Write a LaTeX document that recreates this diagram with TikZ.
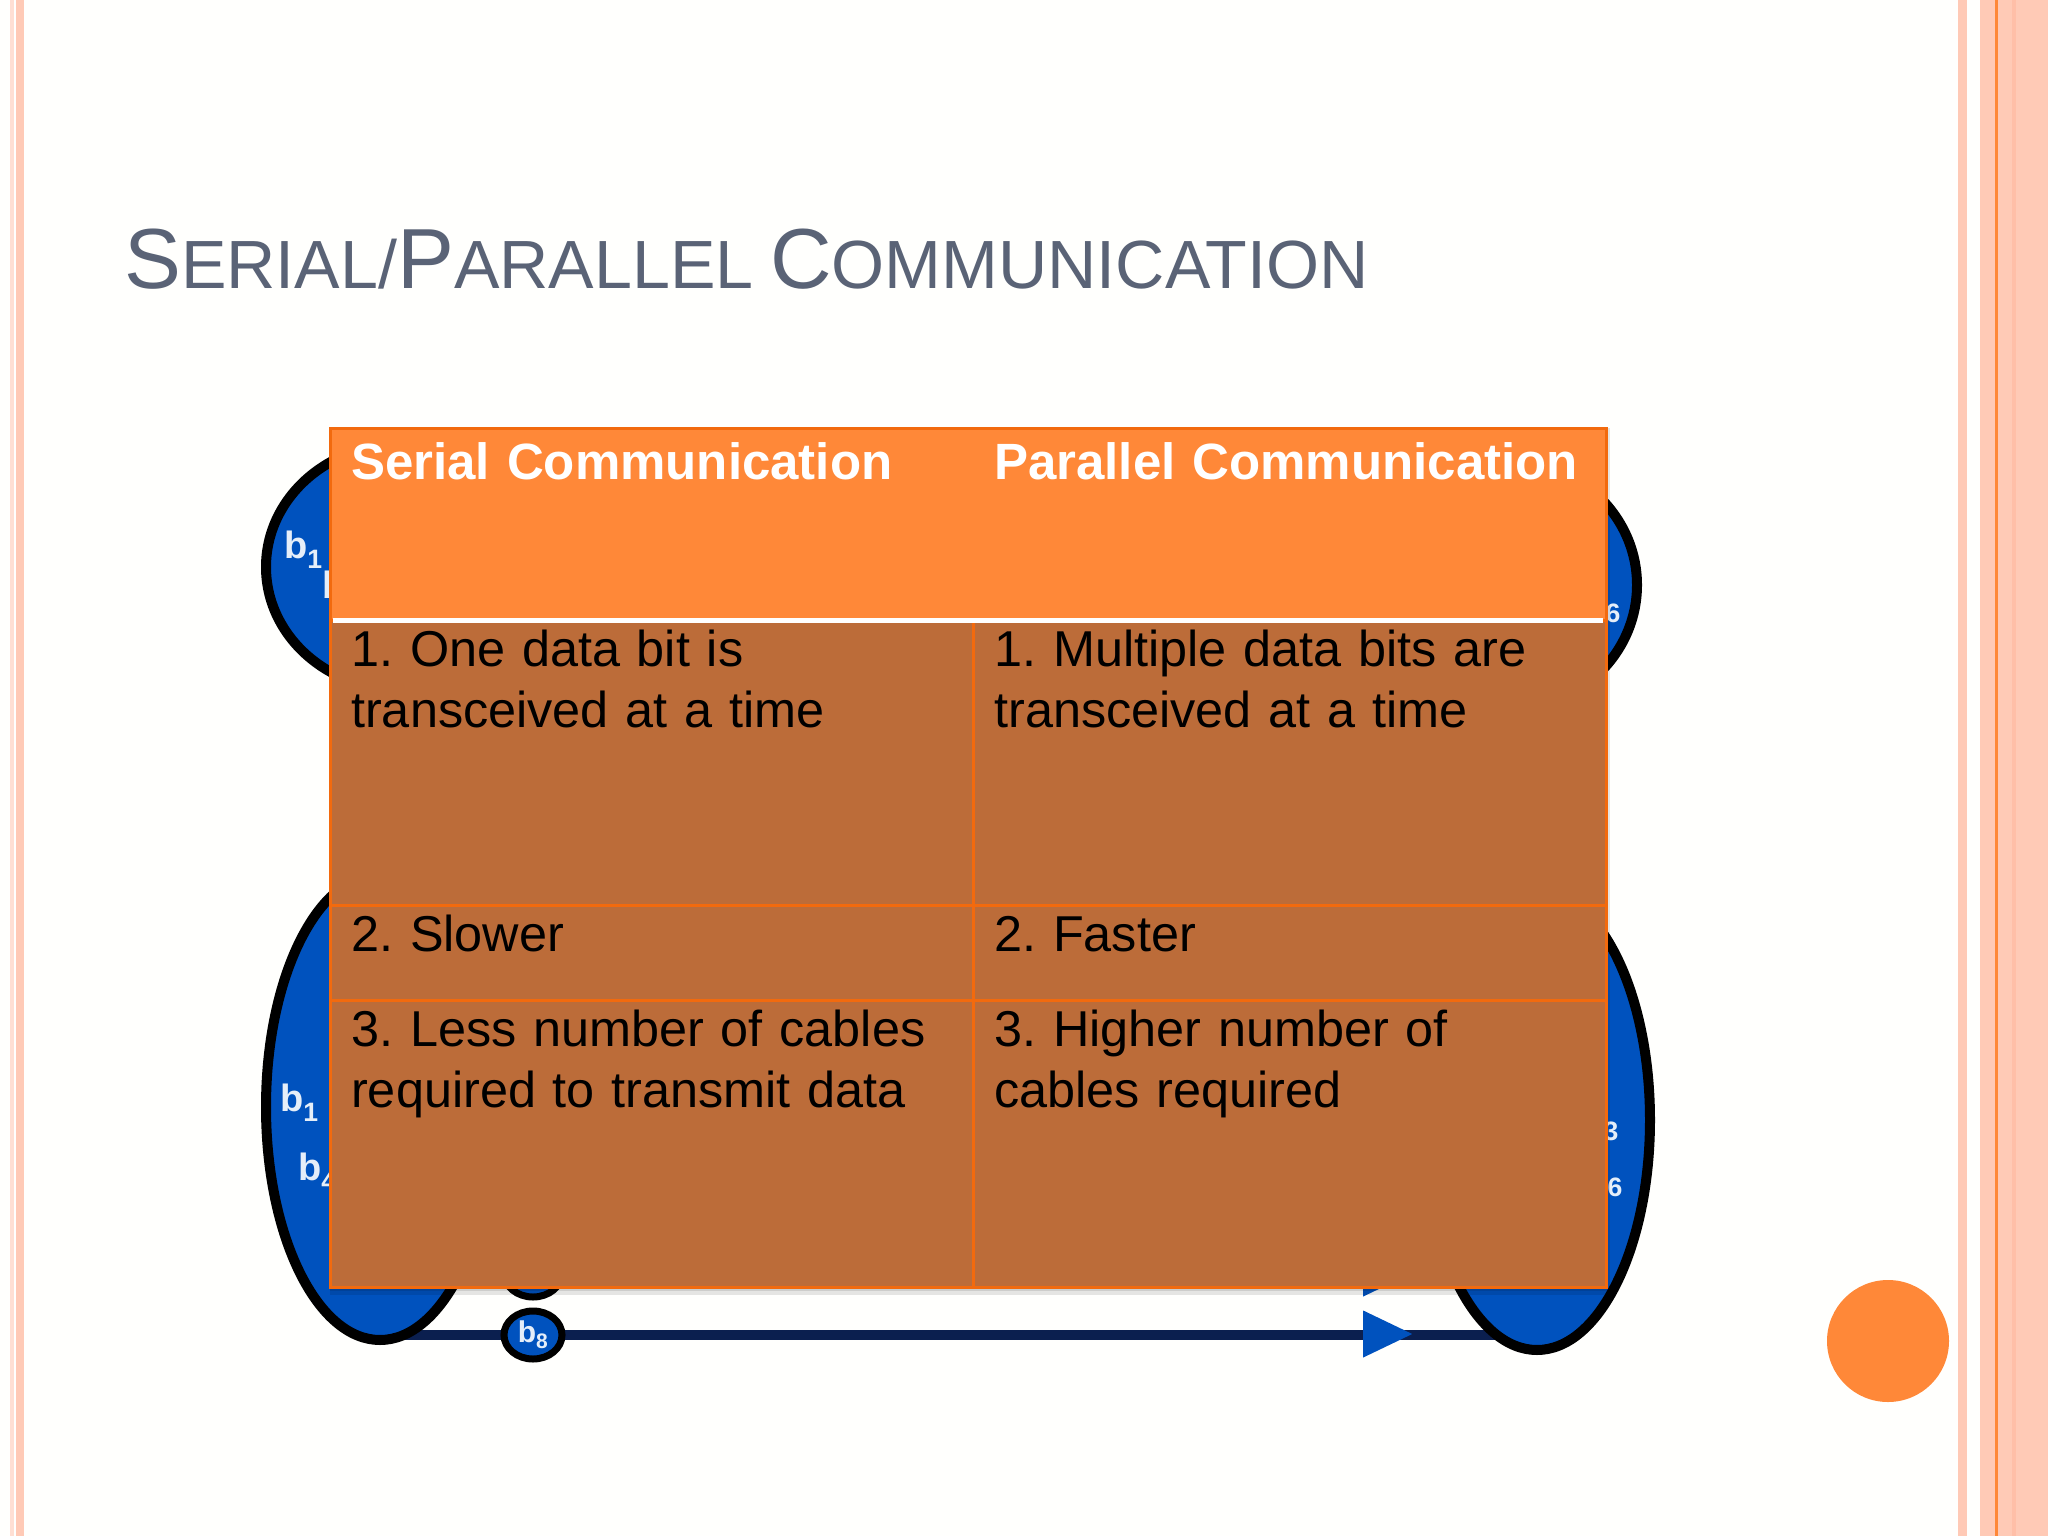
\documentclass[tikz,border=0pt]{standalone}
\usepackage{fontspec}
\setmainfont[WordSpace=0.88]{Liberation Sans}
\usetikzlibrary{positioning,shapes.geometric,backgrounds}

\definecolor{slidebg}{HTML}{FFFFFD}
\definecolor{stripe}{HTML}{FFCAB6}
\definecolor{stripedark}{HTML}{FFBFA8}
\definecolor{accent}{HTML}{FF8838}
\definecolor{bodyfill}{HTML}{BC6C39}
\definecolor{gridorange}{HTML}{F26A0E}
\definecolor{titlegrey}{HTML}{5A6376}
\definecolor{blobblue}{HTML}{0052BE}
\definecolor{busnavy}{HTML}{0B1F4F}

\newcommand{\titlecap}[2]{{\fontsize{85.3}{90}\selectfont #1}{\fontsize{68.2}{72}\selectfont #2}}

\tikzset{
  blob/.style={ellipse, draw=black, line width=10pt, fill=blobblue, inner sep=0pt},
  tap/.style={blob, line width=7pt, minimum width=58pt, minimum height=48pt},
  bitlabel/.style={text=white!90!blobblue, inner sep=0pt, font=\fontsize{38}{38}\selectfont\bfseries},
  arrowhead/.style={isosceles triangle, isosceles triangle stretches, shape border rotate=0,
    fill=blobblue, inner sep=0pt, minimum height=49pt, minimum width=47pt, anchor=west},
  cellbox/.style={rectangle, draw=gridorange, line width=3pt, fill=bodyfill, inner sep=0pt, outer sep=0pt},
  headbox/.style={cellbox, draw=none, fill=accent, minimum height=192pt},
  celltext/.style={anchor=north west, inner xsep=21pt, inner ysep=4pt, align=left,
    text width=600pt, font=\fontsize{50.4}{61}\selectfont\frenchspacing, execute at begin node=\strut},
  headtext/.style={celltext, inner ysep=9pt, text=white, font=\fontsize{51}{61}\selectfont\bfseries}
}

\begin{document}
\begin{tikzpicture}[x=1pt, y=-1pt]
  \useasboundingbox (0,0) rectangle (2048,1536);

  % slide background
  \begin{scope}[on background layer]
    \fill[slidebg] (0,0) rectangle (2048,1536);
    \fill[stripe!60] (10,0) rectangle (14,1536);
    \fill[stripe] (16,0) rectangle (24,1536);
    \fill[stripe] (1958,0) rectangle (1967,1536);
    \fill[stripe] (1980,0) rectangle (2048,1536);
    \fill[stripedark] (2012,0) rectangle (2016,1536);
    \fill[accent] (1995,0) rectangle (1998,1536);
  \end{scope}

  \node[anchor=base west, inner sep=0pt, text=titlegrey] (title) at (124,288)
    {\titlecap{S}{ERIAL/}\titlecap{P}{ARALLEL }\titlecap{C}{OMMUNICATION}};

  \node[circle, fill=accent, minimum size=122pt, inner sep=0pt] (dot) at (1888,1341) {};

  % blobs behind the table
  \node[blob, minimum width=270pt, minimum height=246pt] (srctop) at (401,567) {};
  \node[blob, minimum width=270pt, minimum height=254pt] (dsttop) at (1502,585) {};
  \node[blob, minimum width=228pt, minimum height=466pt] (srcbot) at (380,1107) {};
  \node[blob, minimum width=226pt, minimum height=460pt] (dstbot) at (1537,1120) {};

  \node[bitlabel, anchor=west] (topb1) at (284,550) {b\textsubscript{1}};
  \node[bitlabel, anchor=west] (topb4) at (322,590) {b\textsubscript{4}};
  \node[bitlabel, anchor=east] (topb6) at (1621,604) {b\textsubscript{6}};
  \node[bitlabel, anchor=west] (botb1) at (280,1103) {b\textsubscript{1}};
  \node[bitlabel, anchor=west] (botb4) at (298,1172) {b\textsubscript{4}};
  \node[bitlabel, anchor=east] (botb3) at (1619,1122) {b\textsubscript{3}};
  \node[bitlabel, anchor=east] (botb6) at (1623,1178) {b\textsubscript{6}};

  \node[tap] (b7) at (533,1273) {};
  \node[tap] (b8) at (533,1335) {};
  \node[bitlabel, font=\fontsize{30}{30}\selectfont\bfseries] (b8txt) at (b8) {b\textsubscript{8}};

  \begin{scope}[on background layer]
    \draw[busnavy, line width=10pt] (srcbot |- b8.center) -- (dstbot |- b8.center);
  \end{scope}

  \node[arrowhead] (tip7) at (1363,1273) {};
  \node[arrowhead] (tip8) at (1363,1334) {};

  % table
  \fill[black, opacity=.10] (330,428) rectangle (1610,1295);
  \fill[black, opacity=.10] (330,428) rectangle (1608,1291);

  \node[headbox, anchor=north west, minimum width=643pt] (headl) at (330,428) {};
  \node[headbox, minimum width=633pt, right=0pt of headl] (headr) {};
  \node[cellbox, minimum width=643pt, minimum height=285pt, below=0pt of headl] (onel) {};
  \node[cellbox, minimum width=633pt, minimum height=285pt, below=0pt of headr] (oner) {};
  \node[cellbox, minimum width=643pt, minimum height=95pt, below=0pt of onel] (twol) {};
  \node[cellbox, minimum width=633pt, minimum height=95pt, below=0pt of oner] (twor) {};
  \node[cellbox, minimum width=643pt, minimum height=287pt, below=0pt of twol] (threel) {};
  \node[cellbox, minimum width=633pt, minimum height=287pt, below=0pt of twor] (threer) {};

  \draw[gridorange, line width=3pt] (headl.north west) rectangle (threer.south east);
  \draw[white, line width=5pt] ([xshift=3pt]headl.south west) -- ([xshift=-3pt]headr.south east);

  \node[headtext] (t0l) at (headl.north west) {Serial Communication};
  \node[headtext] (t0r) at (headr.north west) {Parallel Communication};
  \node[celltext] (t1l) at (onel.north west) {1. One data bit is\\transceived at a time};
  \node[celltext] (t1r) at (oner.north west) {1. Multiple data bits are\\transceived at a time};
  \node[celltext] (t2l) at (twol.north west) {2. Slower};
  \node[celltext] (t2r) at (twor.north west) {2. Faster};
  \node[celltext] (t3l) at (threel.north west) {3. Less number of cables\\required to transmit data};
  \node[celltext] (t3r) at (threer.north west) {3. Higher number of\\cables required};
\end{tikzpicture}
\end{document}
